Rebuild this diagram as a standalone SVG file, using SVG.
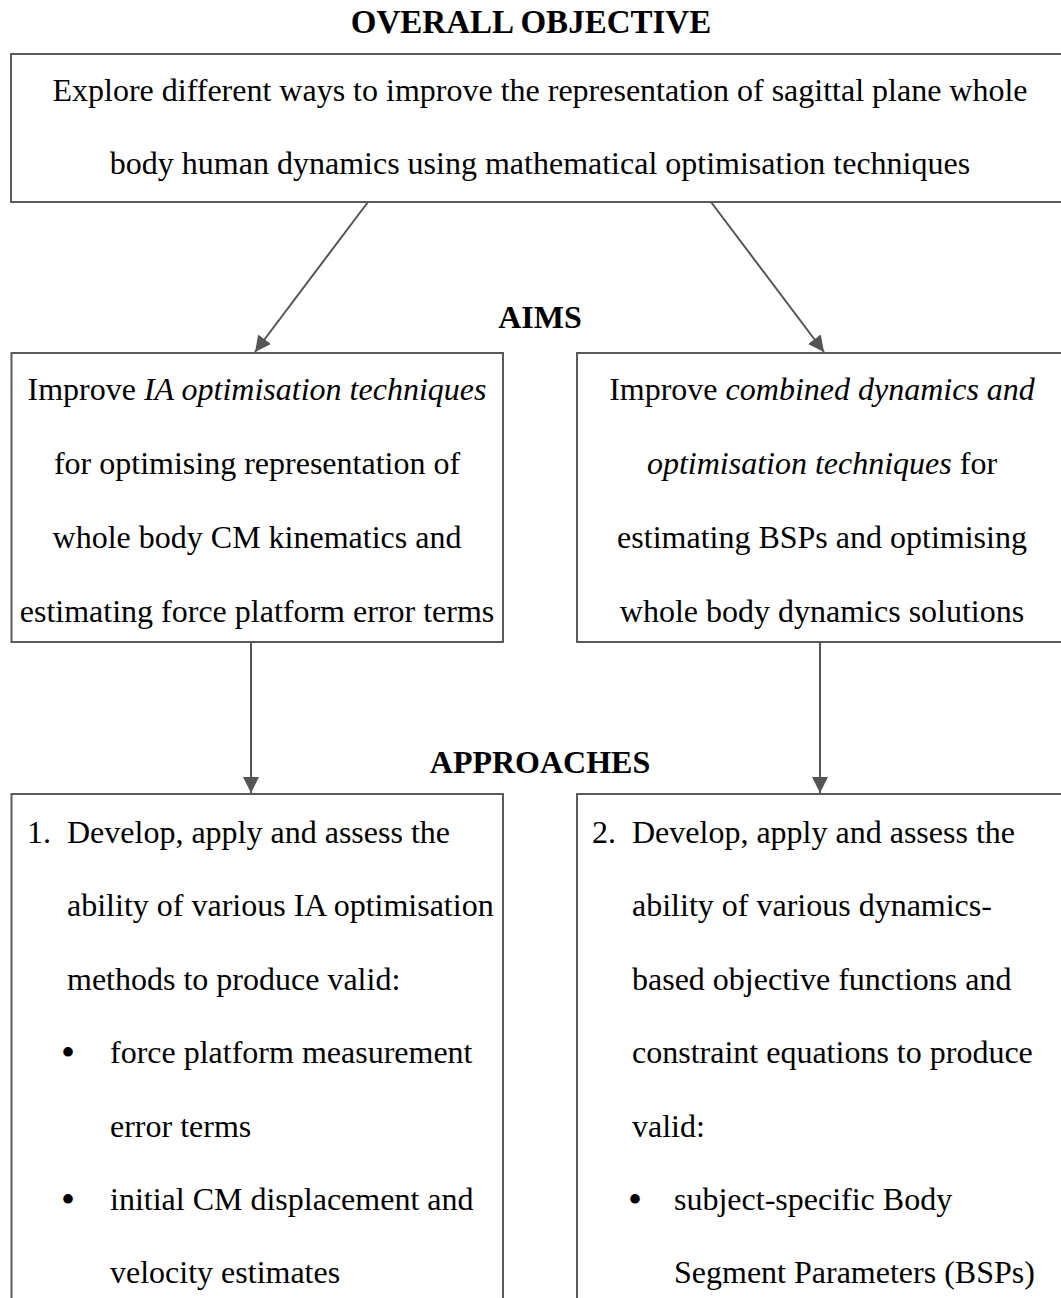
<svg xmlns="http://www.w3.org/2000/svg" width="1061" height="1298" viewBox="0 0 1061 1298">
  <style>
    .box { fill: #ffffff; stroke: #5a5a5a; stroke-width: 2; }
    .t { font-family: "Liberation Serif", "Times New Roman", serif; font-size: 32px; fill: #000; }
    .c { text-anchor: middle; }
    .h { font-weight: bold; }
    .i { font-style: italic; }
    .b { font-size: 40px; text-anchor: middle; }
    .conn { stroke: #555555; stroke-width: 2; fill: none; }
  </style>
  <defs>
    <marker id="arr" markerUnits="userSpaceOnUse" markerWidth="17" markerHeight="17" refX="16" refY="8" orient="auto">
      <path d="M0,0 L16,8 L0,16 Z" fill="#555555"/>
    </marker>
  </defs>

  <rect width="1061" height="1298" fill="#ffffff"/>

  <g id="headers">
    <text class="t h c" x="531" y="33" style="font-size:33px">OVERALL OBJECTIVE</text>
    <text class="t h c" x="540" y="328">AIMS</text>
    <text class="t h c" x="540" y="773">APPROACHES</text>
  </g>

  <g id="objective">
    <rect class="box" x="11" y="54" width="1062" height="148"/>
    <text class="t c" x="540" y="101">Explore different ways to improve the representation of sagittal plane whole</text>
    <text class="t c" x="540" y="174">body human dynamics using mathematical optimisation techniques</text>
  </g>

  <g id="aim1">
    <rect class="box" x="11.5" y="353" width="491.5" height="289"/>
    <text class="t c" x="257" y="400">Improve <tspan class="i">IA optimisation techniques</tspan></text>
    <text class="t c" x="257" y="474">for optimising representation of</text>
    <text class="t c" x="257" y="548">whole body CM kinematics and</text>
    <text class="t c" x="257" y="622">estimating force platform error terms</text>
  </g>

  <g id="aim2">
    <rect class="box" x="577" y="353" width="496" height="289"/>
    <text class="t c" x="822" y="400">Improve <tspan class="i">combined dynamics and</tspan></text>
    <text class="t c" x="822" y="474"><tspan class="i">optimisation techniques</tspan> for</text>
    <text class="t c" x="822" y="548">estimating BSPs and optimising</text>
    <text class="t c" x="822" y="622">whole body dynamics solutions</text>
  </g>

  <g id="approach1">
    <rect class="box" x="11.5" y="794" width="491.5" height="520"/>
    <text class="t" x="27" y="843">1.</text>
    <text class="t" x="67" y="843">Develop, apply and assess the</text>
    <text class="t" x="67" y="916">ability of various IA optimisation</text>
    <text class="t" x="67" y="990">methods to produce valid:</text>
    <text class="t b" x="68" y="1066">•</text>
    <text class="t" x="110" y="1063">force platform measurement</text>
    <text class="t" x="110" y="1137">error terms</text>
    <text class="t b" x="68" y="1213">•</text>
    <text class="t" x="110" y="1210">initial CM displacement and</text>
    <text class="t" x="110" y="1283">velocity estimates</text>
  </g>

  <g id="approach2">
    <rect class="box" x="577" y="794" width="496" height="520"/>
    <text class="t" x="592" y="843">2.</text>
    <text class="t" x="632" y="843">Develop, apply and assess the</text>
    <text class="t" x="632" y="916">ability of various dynamics-</text>
    <text class="t" x="632" y="990">based objective functions and</text>
    <text class="t" x="632" y="1063">constraint equations to produce</text>
    <text class="t" x="632" y="1137">valid:</text>
    <text class="t b" x="635" y="1213">•</text>
    <text class="t" x="674" y="1210">subject-specific Body</text>
    <text class="t" x="674" y="1283">Segment Parameters (BSPs)</text>
  </g>

  <g id="connectors">
    <line class="conn" x1="368" y1="202" x2="255" y2="352" marker-end="url(#arr)"/>
    <line class="conn" x1="711" y1="202" x2="824" y2="352" marker-end="url(#arr)"/>
    <line class="conn" x1="251" y1="642" x2="251" y2="793" marker-end="url(#arr)"/>
    <line class="conn" x1="820" y1="642" x2="820" y2="793" marker-end="url(#arr)"/>
  </g>
</svg>
